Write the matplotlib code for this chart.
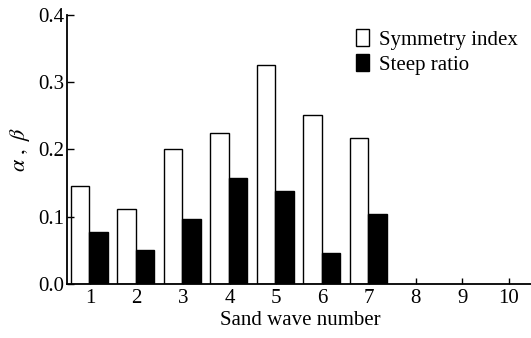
import matplotlib.pyplot as plt
import numpy as np

plt.rcParams['font.family'] = ['Liberation Serif', 'DejaVu Serif']
plt.rcParams['mathtext.fontset'] = 'stix'

waves = [1, 2, 3, 4, 5, 6, 7, 8, 9, 10]
symmetry = [0.145, 0.112, 0.200, 0.224, 0.325, 0.251, 0.217]
steep = [0.077, 0.050, 0.097, 0.158, 0.138, 0.046, 0.104]

fig = plt.figure(figsize=(5.31, 3.38), dpi=100)
ax = fig.add_axes([0.126, 0.160, 0.88, 0.796])

x = np.arange(1, len(symmetry) + 1)
w = 0.4
ax.bar(x - w / 2 - 0.02, symmetry, w, color='white', edgecolor='black', linewidth=1.0,
       label='Symmetry index')
ax.bar(x + w / 2 - 0.02, steep, w, color='black', edgecolor='black', linewidth=1.0,
       label='Steep ratio')

ax.set_xlim(0.5, 10.55)
ax.set_ylim(0, 0.4)
ax.set_xticks(waves)
ax.set_yticks([0.0, 0.1, 0.2, 0.3, 0.4])
ax.set_yticklabels(['0.0', '0.1', '0.2', '0.3', '0.4'])
ax.tick_params(direction='in', labelsize=15, length=4, width=1)
ax.tick_params(axis='y', length=5, pad=2)
ax.tick_params(axis='x', pad=4)
for s in ['top', 'right']:
    ax.spines[s].set_visible(False)
for s in ['left', 'bottom']:
    ax.spines[s].set_linewidth(1.3)

ax.set_xlabel('Sand wave number', fontsize=15, labelpad=2)
ax.set_ylabel(r'$\alpha\ ,\ \beta$', fontsize=16, labelpad=4)

ax.legend(loc='upper right', bbox_to_anchor=(0.982, 0.977), frameon=False, fontsize=15,
          handlelength=0.63, handleheight=0.87, handletextpad=0.45, labelspacing=0.2,
          borderaxespad=0.0)

plt.savefig('out.png', dpi=100)
